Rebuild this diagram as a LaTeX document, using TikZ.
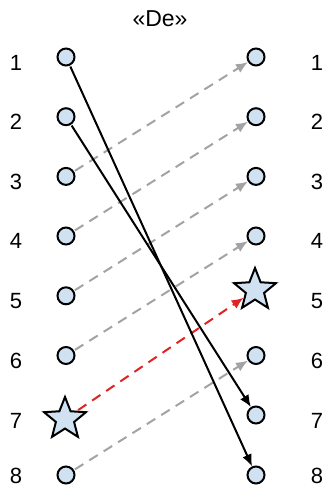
\documentclass[tikz,border=0pt]{standalone}
\usepackage{fontspec}
\setmainfont{Liberation Sans}
\usetikzlibrary{shapes.geometric,arrows.meta}
\definecolor{nodefill}{HTML}{D0E2F2}
\definecolor{dashgray}{HTML}{A3A3A3}
\definecolor{dashred}{HTML}{E02424}
\begin{document}
\begin{tikzpicture}[x=1pt,y=-1pt,
  dot/.style={circle,draw=black,line width=2pt,fill=nodefill,minimum size=17pt,inner sep=0pt},
  starnode/.style={star,star points=5,star point ratio=2.3,draw=black,line width=2pt,fill=nodefill,minimum size=44pt,inner sep=0pt},
  num/.style={font=\fontsize{22}{22}\selectfont,inner sep=0pt},
  title/.style={font=\fontsize{23}{23}\selectfont,inner sep=0pt},
  grayarrow/.style={draw=dashgray,line width=2pt,dash pattern=on 10pt off 7pt,-{Latex[length=12pt,width=10pt]},shorten <=1pt},
  redarrow/.style={draw=dashred,line width=2pt,dash pattern=on 10pt off 7pt,-{Latex[length=12pt,width=10pt]},shorten <=1pt},
  blackarrow/.style={draw=black,line width=2pt,-{Latex[length=12pt,width=10pt]},shorten <=1pt}]
\useasboundingbox (0,0) rectangle (329,487);
\node[title] (t) at (160,19) {«De»};
% left column
\node[dot] (l1) at (66,57) {};
\node[dot] (l2) at (66,116.7) {};
\node[dot] (l3) at (66,176.4) {};
\node[dot] (l4) at (66,236) {};
\node[dot] (l5) at (66,295.8) {};
\node[dot] (l6) at (66,355.5) {};
\node[starnode] (l7) at (65,419) {};
\node[dot] (l8) at (66,475) {};
% right column
\node[dot] (r1) at (256,57) {};
\node[dot] (r2) at (256,116.7) {};
\node[dot] (r3) at (256,176.4) {};
\node[dot] (r4) at (256,236) {};
\node[starnode] (r5) at (255,290) {};
\node[dot] (r6) at (256,355.5) {};
\node[dot] (r7) at (256,415) {};
\node[dot] (r8) at (256,475) {};
% labels
\foreach \i/\y in {1/63,2/122,3/182,4/241,5/301,6/361,7/421,8/475.5}{
  \node[num] (ln\i) at (16,\y) {\i};
  \node[num] (rn\i) at (317,\y) {\i};
}
% connectors
\draw[grayarrow] (l3) -- (r1);
\draw[grayarrow] (l4) -- (r2);
\draw[grayarrow] (l5) -- (r3);
\draw[grayarrow] (l6) -- (r4);
\draw[grayarrow] (l8) -- (r6);
\draw[redarrow] (l7) -- (r5);
\draw[blackarrow] (l1) -- (r8);
\draw[blackarrow] (l2) -- (r7);
\end{tikzpicture}
\end{document}
